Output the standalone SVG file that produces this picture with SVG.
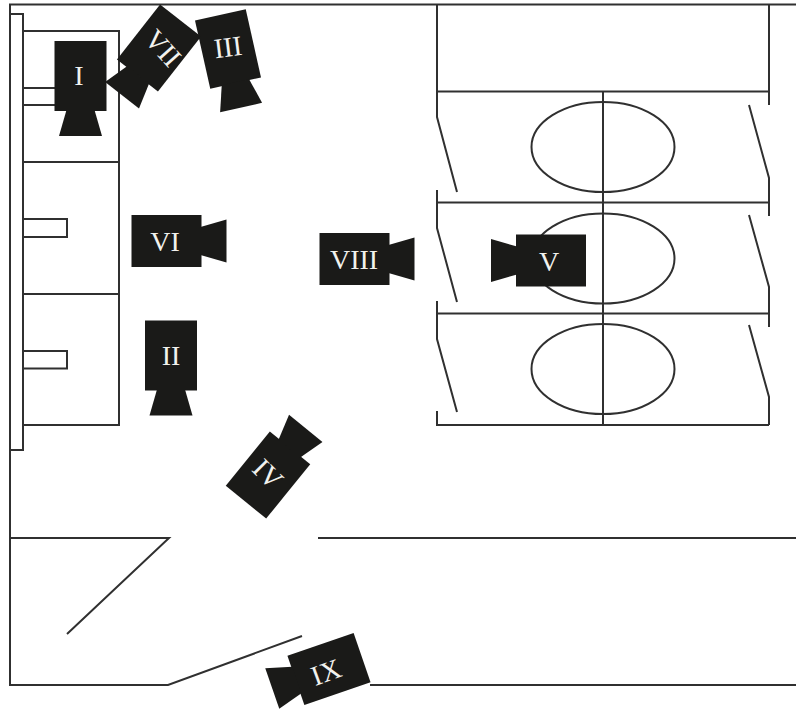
<svg xmlns="http://www.w3.org/2000/svg" width="796" height="710" viewBox="0 0 796 710">
<style>
.l{fill:none;stroke:#303030;stroke-width:2}
.t{fill:#f2f2ee;font-family:"Liberation Serif",serif;font-size:28px;text-anchor:middle}
</style>
<defs>
<g id="cam" fill="#1a1a18"><rect x="-35" y="-26" width="70" height="52"/><polygon points="34,-14 60,-21.5 60,21.5 34,14"/></g>
</defs>
<rect width="796" height="710" fill="#fff"/>
<g id="connectors" class="l">
<path d="M796 4.500H10V685H168L302 636M370 685H796"/>
<path d="M10 538H169L67 634M318 538H796"/>
<path d="M10 14H23V450H10"/>
<path d="M23 31H119V425H23M23 162H119M23 294H119"/>
<path d="M23 88H60M23 105H60M23 219H67V237H23M23 351H67V368.500H23"/>
<path d="M437 4V117L457 192M437 190V228L457 302M437 301V339L457 412M437 411V425H769"/>
<path d="M769 4V105M749 105L769 178V216M749 215L769 287V327M749 325L769 397V425"/>
<path d="M437 91.500H769M437 202.500H769M437 313.500H769M603 92V425"/>
<ellipse cx="603" cy="147" rx="71.500" ry="45"/>
<ellipse cx="603" cy="258.500" rx="71.500" ry="45"/>
<ellipse cx="603" cy="369" rx="71.500" ry="45"/>
</g>
<g id="cam-I"><use href="#cam" transform="translate(80.500 76) rotate(90)"/><text class="t" transform="translate(79 75)" y="9.500">I</text></g>
<g id="cam-II"><use href="#cam" transform="translate(171 355.500) rotate(90)"/><text class="t" transform="translate(171 355)" y="9.500">II</text></g>
<g id="cam-III"><use href="#cam" transform="translate(228 49) rotate(77.400)"/><text class="t" transform="translate(228 47) rotate(-7)" y="9.500">III</text></g>
<g id="cam-IV"><use href="#cam" transform="translate(268 475) rotate(-51)"/><text class="t" transform="translate(268 474) rotate(45)" y="9.500">IV</text></g>
<g id="cam-V"><use href="#cam" transform="translate(551 260.500) rotate(180)"/><text class="t" transform="translate(549 261)" y="9.500">V</text></g>
<g id="cam-VI"><use href="#cam" transform="translate(166.500 241)"/><text class="t" transform="translate(165 241)" y="9.500">VI</text></g>
<g id="cam-VII"><use href="#cam" transform="translate(159 48) rotate(128)"/><text class="t" transform="translate(163 48) rotate(48)" y="9.500">VII</text></g>
<g id="cam-VIII"><use href="#cam" transform="translate(354.500 259)"/><text class="t" transform="translate(354 259)" y="9.500">VIII</text></g>
<g id="cam-IX"><use href="#cam" transform="translate(329 669) rotate(161)"/><text class="t" transform="translate(326 672) rotate(-20)" y="9.500">IX</text></g>
</svg>
